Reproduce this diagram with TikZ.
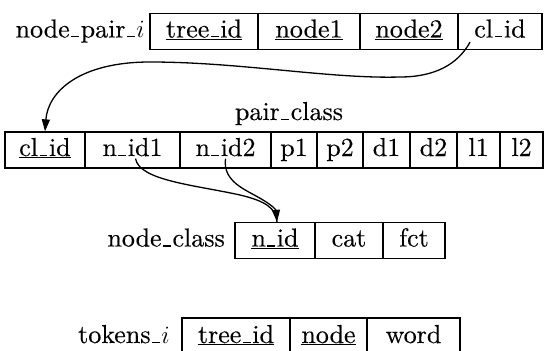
\documentclass[tikz,border=0pt]{standalone}
\usepackage{fontspec}
\setmainfont{lmroman10-regular}[Extension=.otf, ItalicFont=lmroman10-italic, FakeBold=0.3]
\usetikzlibrary{arrows.meta}
% narrow, low underscore as in plain Computer Modern
\newcommand{\usc}{\leavevmode\kern.06em\vbox{\hrule width .3em height .05em}\kern.06em}
\begin{document}
\begin{tikzpicture}[x=1pt,y=-1pt,
  font={\fontsize{26}{31}\selectfont},
  cell/.style={draw, line width=1.3pt, inner sep=0pt, minimum height=36pt,
               text height=18.5pt, text depth=6.5pt},
  lab/.style={anchor=east, inner sep=0pt, text height=18.5pt, text depth=6.5pt},
  link/.style={line width=1.3pt},
  tip/.style={-{Triangle[length=12pt,width=8pt]}}]
\useasboundingbox (0,0) rectangle (545,350);

% node_pair_i
\node[lab] (npl) at (145,31.5) {node\usc pair\usc$i$};
\node[cell, minimum width=108pt] (np1) at (204,31.5) {\underline{tree\usc id}};
\node[cell, minimum width=102pt] (np2) at (309,31.5) {\underline{node1}};
\node[cell, minimum width=98pt]  (np3) at (409,31.5) {\underline{node2}};
\node[cell, minimum width=84pt]  (np4) at (500,31.5) {cl\usc id};

% pair_class
\node[inner sep=0pt, text height=18.5pt, text depth=6.5pt] (pcl) at (289,114) {pair\usc class};
\node[cell, minimum width=80pt] (pc1) at (45,150)    {\underline{cl\usc id}};
\node[cell, minimum width=95pt] (pc2) at (132.5,150) {n\usc id1};
\node[cell, minimum width=91pt] (pc3) at (225.5,150) {n\usc id2};
\node[cell, minimum width=46pt] (pc4) at (294,150)   {p1};
\node[cell, minimum width=46pt] (pc5) at (340,150)   {p2};
\node[cell, minimum width=47pt] (pc6) at (386.5,150) {d1};
\node[cell, minimum width=47pt] (pc7) at (433.5,150) {d2};
\node[cell, minimum width=43pt] (pc8) at (478.5,150) {l1};
\node[cell, minimum width=43pt] (pc9) at (521.5,150) {l2};

% node_class
\node[lab] (ncl) at (225,240.5) {node\usc class};
\node[cell, minimum width=80pt] (nc1) at (275,240.5) {\underline{n\usc id}};
\node[cell, minimum width=68pt] (nc2) at (349,240.5) {cat};
\node[cell, minimum width=62pt] (nc3) at (414,240.5) {fct};

% tokens_i
\node[lab] (tkl) at (170,337) {tokens\usc$i$};
\node[cell, minimum width=108pt, minimum height=38pt] (tk1) at (236,337)   {\underline{tree\usc id}};
\node[cell, minimum width=77pt,  minimum height=38pt] (tk2) at (328.5,337) {\underline{node}};
\node[cell, minimum width=93pt,  minimum height=38pt] (tk3) at (413.5,337) {word};

% foreign keys
\draw[link, tip] ([xshift=-30pt,yshift=8pt]np4.south)
  .. controls +(-12,22) and +(35,0) .. (400,77)
  .. controls +(-70,2) and +(90,0) .. (150,62)
  .. controls +(-70,0) and +(3,-40) .. (pc1.north);
\draw[link] ([xshift=3pt,yshift=10pt]pc2.south)
  .. controls +(4,22) and +(-45,-10) .. (240,195)
  .. controls +(25,6) and +(-1,-14) .. ([xshift=2pt]nc1.north);
\draw[link, tip] ([xshift=0pt,yshift=10pt]pc3.south)
  .. controls +(-3,24) and +(-16,-10) .. (263,200)
  .. controls +(10,6) and +(-1,-12) .. ([xshift=2pt]nc1.north);
\end{tikzpicture}
\end{document}
